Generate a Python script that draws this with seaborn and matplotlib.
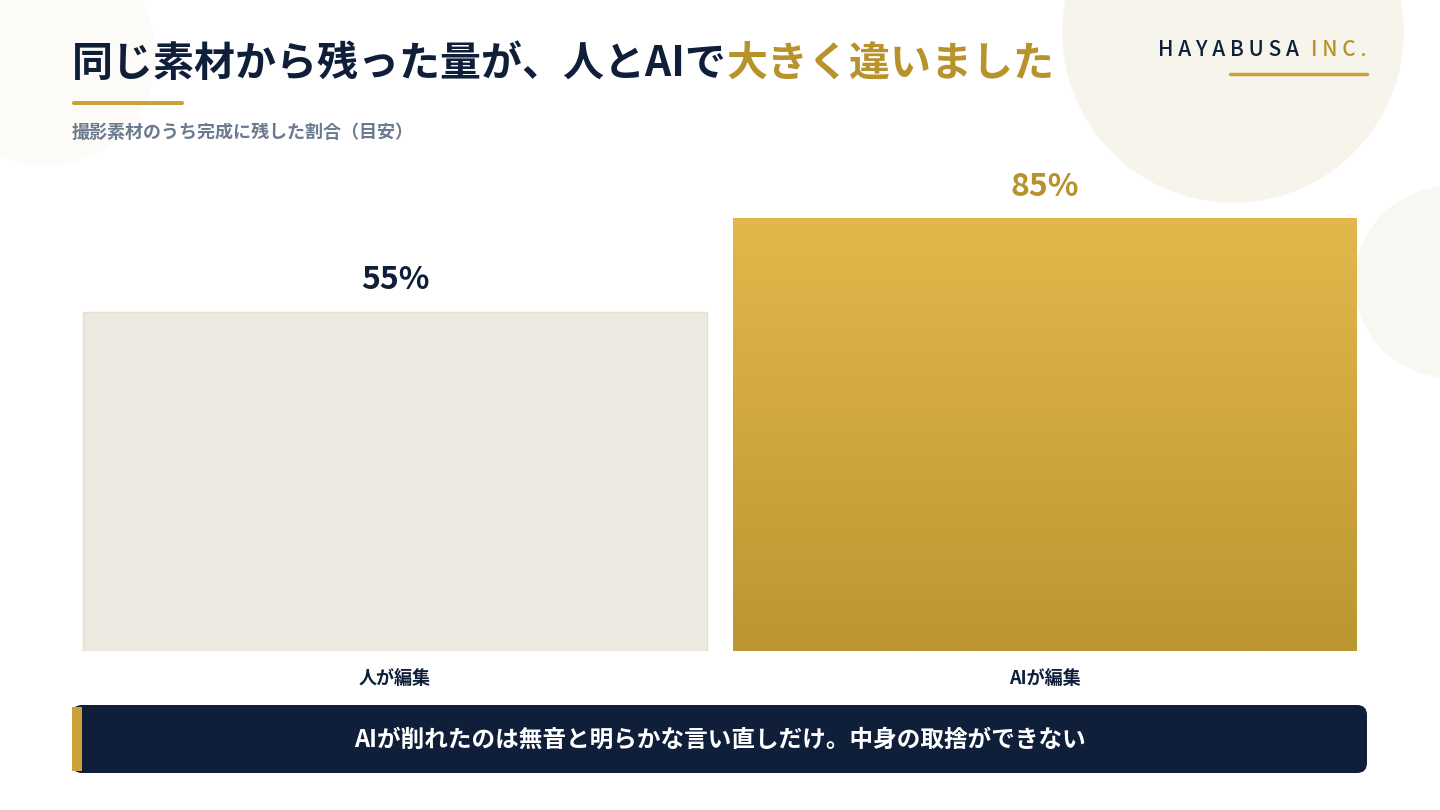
import numpy as np
import pandas as pd
import matplotlib.pyplot as plt
import seaborn as sns
from matplotlib.patches import Circle, FancyBboxPatch, Rectangle
from matplotlib.colors import LinearSegmentedColormap

# data
categories = ['人が編集', 'AIが編集']
values = [55, 85]
value_labels = ['55%', '85%']

NAVY = '#0f1f3a'
GOLD = '#b8922a'
BASE = -53.5  # visual baseline of the bars

sns.set_theme(style='white')
plt.rcParams['font.family'] = ['Noto Sans CJK JP', 'DejaVu Sans']

W, H = 1440, 810
fig = plt.figure(figsize=(14.4, 8.1), dpi=100)
fig.patch.set_facecolor('white')

# background decorations in pixel coords
bg = fig.add_axes([0, 0, 1, 1])
bg.set_xlim(0, W); bg.set_ylim(H, 0); bg.axis('off')
bg.add_patch(Circle((1233, 32), 170, color='#f7f4ec', zorder=0))
bg.add_patch(Circle((1450, 282), 95, color='#f9f7f1', zorder=0))
bg.add_patch(Circle((45, 55), 110, color='#fcfbf7', zorder=0))

# title, mixed colour
t1 = bg.text(72, 64, '同じ素材から残った量が、人とAIで', fontsize=29.5, fontweight='bold',
             color=NAVY, va='center', ha='left')
fig.canvas.draw()
x_end = t1.get_window_extent().x1
bg.text(x_end, 64, '大きく違いました', fontsize=29.5, fontweight='bold',
        color=GOLD, va='center', ha='left')
bg.add_patch(FancyBboxPatch((72, 101), 112, 4, boxstyle='round,pad=0,rounding_size=2',
                            color='#c9a23a', lw=0))
bg.text(72, 132, '撮影素材のうち完成に残した割合（目安）', fontsize=13, fontweight='bold',
        color='#6b7a90', va='center')

# logo (letter-spaced)
inc = bg.text(1367, 50, 'I N C .', fontsize=15, color=GOLD, ha='right', va='center',
              fontweight='medium')
fig.canvas.draw()
bg.text(inc.get_window_extent().x0 - 12, 50, 'H A Y A B U S A', fontsize=15, color=NAVY,
        ha='right', va='center', fontweight='medium')
bg.plot([1230, 1367], [74, 74], color='#c9a23a', lw=2.5)

# banner
bg.add_patch(FancyBboxPatch((72, 705), 1295, 68, boxstyle='round,pad=0,rounding_size=10',
                            color=NAVY, lw=0, zorder=2))
bg.add_patch(Rectangle((72, 707), 10, 64, color='#c9a23a', lw=0, zorder=3))
bg.text(720, 740, 'AIが削れたのは無音と明らかな言い直しだけ。中身の取捨ができない',
        fontsize=17, fontweight='bold', color='white', ha='center', va='center', zorder=4)

# bar chart axes: x 70..1370 px, y 160..651 px
ax = fig.add_axes([70 / W, 1 - 651 / H, 1300 / W, (651 - 160) / H])
ax.patch.set_alpha(0)
df = pd.DataFrame({'cat': categories, 'val': values})
sns.barplot(data=df, x='cat', y='val', ax=ax, width=0.96, palette=['#eeeadf', '#d0a940'],
            hue='cat', legend=False, edgecolor='none')
ax.set_xlim(-0.5, 1.5)
ax.set_ylim(BASE, 103.5)
ax.axis('off')

bars = ax.patches
for p in bars:
    top = p.get_y() + p.get_height()
    p.set_y(BASE)
    p.set_height(top - BASE)
bars[0].set_edgecolor('#e6dfcc'); bars[0].set_linewidth(1)
# gradient for AI bar
p = bars[1]
x0, w = p.get_x(), p.get_width()
cmap = LinearSegmentedColormap.from_list('g', ['#bb962f', '#e2b84c'])
grad = np.linspace(0, 1, 256).reshape(-1, 1)
im = ax.imshow(grad, cmap=cmap, origin='lower', aspect='auto',
               extent=[x0, x0 + w, BASE, values[1]], zorder=3)
im.set_clip_path(p)

colors = [NAVY, GOLD]
for i, (v, lab) in enumerate(zip(values, value_labels)):
    ax.text(i, v + 10, lab, ha='center', va='center', fontsize=23, fontweight='bold',
            color=colors[i])
    bg.text(395 + 650 * i, 678, categories[i], ha='center', va='center', fontsize=13,
            fontweight='bold', color=NAVY)

fig.savefig('out.png', dpi=100)
